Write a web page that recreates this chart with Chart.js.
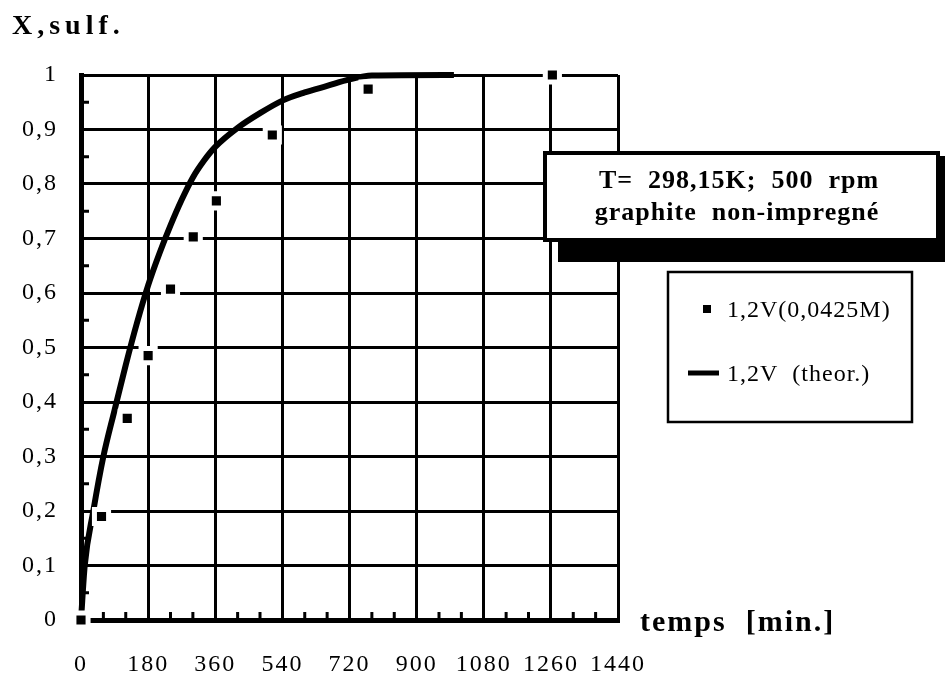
<!DOCTYPE html>
<html>
<head>
<meta charset="utf-8">
<title>X,sulf.</title>
<script src="https://cdn.jsdelivr.net/npm/chart.js@4.4.1/dist/chart.umd.min.js"></script>
<style>
    html, body { margin: 0; padding: 0; background: #fff; }
    canvas { display: block; }
</style>
</head>
<body>
<canvas id="sulfChart" width="945" height="679"></canvas>
<script>
// axis labels
const xTickLabels = ['0', '180', '360', '540', '720', '900', '1080', '1260', '1440'];
const yTickLabels = ['0', '0,1', '0,2', '0,3', '0,4', '0,5', '0,6', '0,7', '0,8', '0,9', '1'];

// mesures 1,2V (0,0425M)
const measureTime = [0, 55, 124, 180, 240, 301, 363, 513, 770, 1264];
const measureX = [0, 0.19, 0.37, 0.485, 0.607, 0.703, 0.769, 0.89, 0.974, 1.0];

// courbe theorique 1,2V
const theoryTime = [0, 10, 33, 60, 90, 120, 150, 180, 210, 240, 270, 300, 330, 360, 420, 480, 540, 600, 660, 720, 780, 1000];
const theoryX = [0, 0.1, 0.2, 0.3, 0.385, 0.468, 0.545, 0.614, 0.672, 0.724, 0.771, 0.812, 0.843, 0.868, 0.903, 0.93, 0.953, 0.968, 0.98, 0.992, 0.999, 1.0];

const SERIF = '"Liberation Serif", "Times New Roman", serif';

const isMajorX = v => v % 180 === 0;
const isMajorY = v => Math.round(v * 100) % 10 === 0;

// petits traits interieurs + textes (titre, cadre, legende)
const decorPlugin = {
    id: 'decor',
    beforeDraw(chart) {
        chart.ctx.letterSpacing = '2px';
    },
    beforeDatasetsDraw(chart) {
        chart.ctx.letterSpacing = '0px';
    },
    afterDraw(chart) {
        const { ctx, chartArea, scales } = chart;
        const xs = scales.x;
        const ys = scales.y;

        ctx.save();
        ctx.strokeStyle = '#000';
        ctx.lineWidth = 3;
        ctx.beginPath();
        xs.ticks.forEach(t => {
            if (isMajorX(t.value)) return;
            const px = xs.getPixelForValue(t.value);
            ctx.moveTo(px, chartArea.bottom);
            ctx.lineTo(px, chartArea.bottom - 8);
        });
        ys.ticks.forEach(t => {
            if (isMajorY(t.value)) return;
            const py = ys.getPixelForValue(t.value);
            ctx.moveTo(chartArea.left, py);
            ctx.lineTo(chartArea.left + 8, py);
        });
        ctx.stroke();

        ctx.fillStyle = '#000';
        ctx.textBaseline = 'alphabetic';

        // titre axe Y
        ctx.font = 'bold 28px ' + SERIF;
        ctx.letterSpacing = '5px';
        ctx.textAlign = 'left';
        ctx.fillText('X,sulf.', 12, 34);

        // titre axe X
        ctx.font = 'bold 30px ' + SERIF;
        ctx.letterSpacing = '2px';
        ctx.fillText('temps  [min.]', 640, 631);

        // cadre conditions avec ombre
        ctx.fillStyle = '#000';
        ctx.fillRect(558, 156, 400, 106);
        ctx.fillStyle = '#fff';
        ctx.fillRect(545, 153, 393, 87);
        ctx.strokeStyle = '#000';
        ctx.lineWidth = 4;
        ctx.strokeRect(545, 153, 393, 87);

        ctx.fillStyle = '#000';
        ctx.font = 'bold 26px ' + SERIF;
        ctx.letterSpacing = '1px';
        ctx.textAlign = 'center';
        ctx.fillText('T=  298,15K;  500  rpm', 739, 188);
        ctx.fillText('graphite  non-impregné', 737, 220);

        // legende
        ctx.lineWidth = 2.5;
        ctx.strokeRect(668, 272, 244, 150);
        const ds0 = chart.data.datasets[0];
        const ds1 = chart.data.datasets[1];
        ctx.fillStyle = ds0.backgroundColor;
        ctx.fillRect(703, 305, 8, 8);
        ctx.strokeStyle = ds1.borderColor;
        ctx.lineWidth = 5;
        ctx.beginPath();
        ctx.moveTo(688, 373);
        ctx.lineTo(719, 373);
        ctx.stroke();

        ctx.fillStyle = '#000';
        ctx.font = '24px ' + SERIF;
        ctx.letterSpacing = '1px';
        ctx.textAlign = 'left';
        ctx.fillText(ds0.label, 727, 317);
        ctx.fillText(ds1.label, 727, 381);

        ctx.restore();
        ctx.letterSpacing = '0px';
    }
};

const ctx = document.getElementById('sulfChart');

new Chart(ctx, {
    data: {
        datasets: [
            {
                type: 'scatter',
                label: '1,2V(0,0425M)',
                data: measureTime.map((t, i) => ({ x: t, y: measureX[i] })),
                backgroundColor: '#000',
                pointStyle: 'rect',
                pointRadius: 10,
                pointBorderWidth: 5,
                pointBorderColor: '#fff',
                pointHoverRadius: 10,
                clip: false,
                order: 0
            },
            {
                type: 'line',
                label: '1,2V  (theor.)',
                data: theoryTime.map((t, i) => ({ x: t, y: theoryX[i] })),
                borderColor: '#000',
                borderWidth: 6,
                pointRadius: 0,
                fill: false,
                cubicInterpolationMode: 'monotone',
                clip: false,
                order: 1
            }
        ]
    },
    options: {
        responsive: false,
        devicePixelRatio: 1,
        animation: false,
        events: [],
        layout: { padding: { left: 0, top: 75, right: 327, bottom: 0 } },
        plugins: {
            legend: { display: false },
            tooltip: { enabled: false },
            title: { display: false }
        },
        scales: {
            x: {
                type: 'linear',
                min: 0,
                max: 1440,
                afterFit: scale => { scale.height = 59; },
                ticks: {
                    stepSize: 60,
                    autoSkip: false,
                    maxRotation: 0,
                    padding: 30,
                    color: '#000',
                    font: { family: SERIF, size: 24 },
                    callback: v => isMajorX(v) ? xTickLabels[v / 180] : ''
                },
                grid: {
                    drawTicks: false,
                    lineWidth: 3,
                    color: c => (c.tick && isMajorX(c.tick.value)) ? '#000' : 'rgba(0,0,0,0)'
                },
                border: { display: true, color: '#000', width: 5 }
            },
            y: {
                type: 'linear',
                min: 0,
                max: 1,
                afterFit: scale => { scale.width = 81; },
                ticks: {
                    stepSize: 0.05,
                    autoSkip: false,
                    padding: 23,
                    color: '#000',
                    font: { family: SERIF, size: 24 },
                    callback: v => isMajorY(v) ? yTickLabels[Math.round(v * 10)] : ''
                },
                grid: {
                    drawTicks: false,
                    lineWidth: 3,
                    color: c => (c.tick && isMajorY(c.tick.value)) ? '#000' : 'rgba(0,0,0,0)'
                },
                border: { display: true, color: '#000', width: 5 }
            }
        }
    },
    plugins: [decorPlugin]
});
</script>
</body>
</html>
